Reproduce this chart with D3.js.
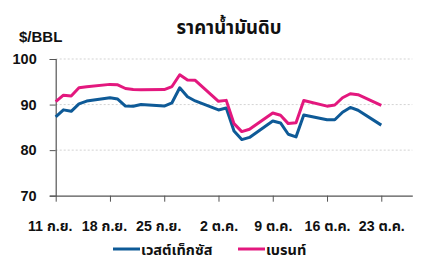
<!DOCTYPE html>
<html>
<head>
<meta charset="utf-8">
<script src="https://cdn.jsdelivr.net/npm/d3@7"></script>
<style>
  html, body { margin: 0; padding: 0; background: #fff; }
  svg { display: block; font-family: "Liberation Sans", Arial, sans-serif; }
</style>
</head>
<body>
<svg id="chart" width="431" height="263"></svg>
<script>
const dates = ["2023-09-11","2023-09-12","2023-09-13","2023-09-14","2023-09-15",
  "2023-09-18","2023-09-19","2023-09-20","2023-09-21","2023-09-22",
  "2023-09-25","2023-09-26","2023-09-27","2023-09-28","2023-09-29",
  "2023-10-02","2023-10-03","2023-10-04","2023-10-05","2023-10-06",
  "2023-10-09","2023-10-10","2023-10-11","2023-10-12","2023-10-13",
  "2023-10-16","2023-10-17","2023-10-18","2023-10-19","2023-10-20",
  "2023-10-23"];
const wti = [87.29,88.84,88.52,90.16,90.77,
  91.48,91.20,89.66,89.63,90.03,
  89.68,90.39,93.68,91.71,90.79,
  88.82,89.23,84.22,82.31,82.79,
  86.38,85.97,83.49,82.91,87.69,
  86.66,86.66,88.32,89.37,88.75,
  85.49];
const brent = [90.64,92.06,91.88,93.70,93.93,
  94.43,94.34,93.53,93.30,93.27,
  93.29,93.96,96.55,95.38,95.31,
  90.71,90.92,85.81,84.07,84.58,
  88.15,87.65,85.82,86.00,90.89,
  89.65,89.90,91.50,92.38,92.16,
  89.83];
const tickDates = ["2023-09-11","2023-09-18","2023-09-25","2023-10-02","2023-10-09","2023-10-16","2023-10-23"];
const tickLabels = ["11 ก.ย.","18 ก.ย.","25 ก.ย.","2 ต.ค.","9 ต.ค.","16 ต.ค.","23 ต.ค."];
const yTicks = [70, 80, 90, 100];
const seriesNames = ["เวสต์เท็กซัส", "เบรนท์"];
const title = "ราคาน้ำมันดิบ";
const unit = "$/BBL";

const parse = d3.utcParse("%Y-%m-%d");
const colors = ["#0e5a97", "#e3187e"];
const series = [wti, brent];
const FONT = "'Liberation Sans', Arial, 'Noto Sans Thai', Tahoma, sans-serif";

const svg = d3.select("#chart");
const x = d3.scaleUtc().domain([parse("2023-09-11"), parse("2023-10-27")]).range([55.7, 412.3]);
const y = d3.scaleLinear().domain([70, 100]).range([195.7, 59]);

// grid
svg.append("g").selectAll("line").data(yTicks.filter(d => d > 70)).join("line")
  .attr("x1", x.range()[0]).attr("x2", x.range()[1])
  .attr("y1", d => y(d)).attr("y2", d => y(d))
  .attr("stroke", "#c8c8c8").attr("stroke-width", 0.8).attr("stroke-dasharray", "2,2");

// y axis
const yAxis = svg.append("g").attr("transform", `translate(${x.range()[0]},0)`)
  .call(d3.axisLeft(y).tickValues(yTicks).tickSize(6).tickPadding(13).tickFormat(d3.format("d")));
yAxis.select(".domain").attr("stroke", "#555").attr("stroke-width", 1.2);
yAxis.selectAll(".tick line").attr("stroke", "#555");
yAxis.selectAll("text").attr("font-size", 14.5).attr("font-weight", "bold").attr("fill", "#111")
  .attr("font-family", FONT);

// x axis
const xAxis = svg.append("g").attr("transform", `translate(0,${y.range()[0]})`)
  .call(d3.axisBottom(x).tickValues(tickDates.map(parse)).tickSize(6).tickSizeOuter(0)
    .tickFormat((d, i) => tickLabels[i]).tickPadding(19));
xAxis.select(".domain").attr("stroke", "#555").attr("stroke-width", 1.2);
xAxis.selectAll(".tick line").attr("stroke", "#555");
xAxis.selectAll("text").attr("font-size", 14.2).attr("font-weight", "bold").attr("fill", "#111")
  .attr("font-family", FONT)
  .attr("dx", (d, i) => i < 3 ? -6 : 0);

// lines
const line = d3.line().x((d, i) => x(parse(dates[i]))).y(d => y(d));
svg.append("g").selectAll("path").data(series).join("path")
  .attr("d", d => line(d))
  .attr("fill", "none")
  .attr("stroke", (d, i) => colors[i])
  .attr("stroke-width", 3)
  .attr("stroke-linejoin", "round");

// title
svg.append("text").attr("x", 229).attr("y", 34).attr("text-anchor", "middle")
  .attr("font-family", FONT)
  .attr("font-size", 18.5).attr("font-weight", "bold").attr("fill", "#111").text(title);
svg.append("text").attr("x", 19).attr("y", 41.5).attr("font-family", FONT)
  .attr("font-size", 15).attr("font-weight", "bold").attr("fill", "#111").text(unit);

// legend
const legendX = [113, 238];
const lg = svg.append("g").selectAll("g").data(seriesNames).join("g")
  .attr("transform", (d, i) => `translate(${legendX[i]},249)`);
lg.append("line").attr("x1", 0).attr("x2", 27).attr("y1", 0).attr("y2", 0)
  .attr("stroke", (d, i) => colors[i]).attr("stroke-width", 3);
lg.append("text").attr("x", 28).attr("y", 5.5).attr("font-size", 14.5).attr("font-weight", "bold")
  .attr("font-family", FONT).attr("fill", "#111").text(d => d);
</script>
</body>
</html>
